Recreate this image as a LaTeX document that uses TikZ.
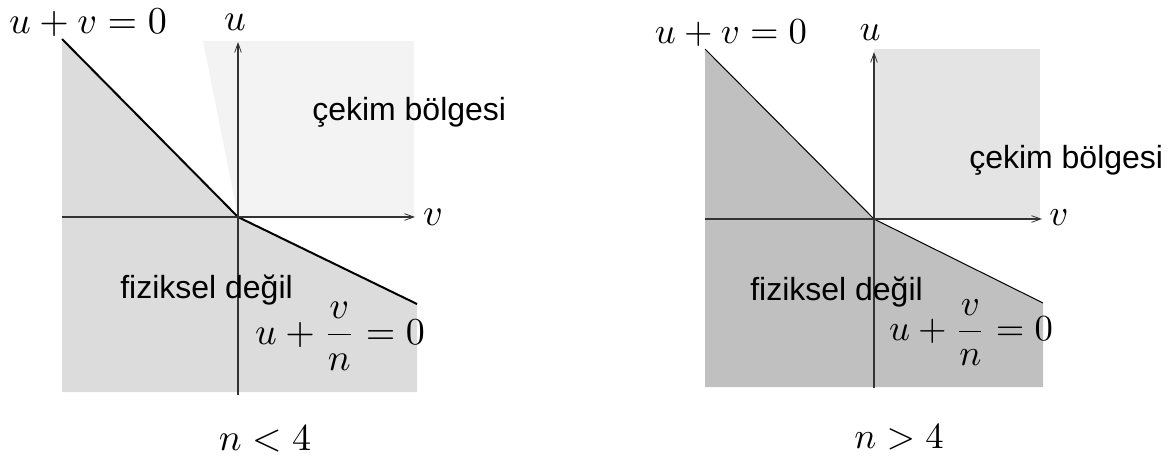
\documentclass[tikz,border=0pt]{standalone}
\usepackage{graphicx}
\usepackage{fontspec}
\newfontfamily\labelfont{Liberation Sans}
\usetikzlibrary{arrows.meta}
\definecolor{lgrayA}{HTML}{DCDCDC}
\definecolor{llightA}{HTML}{F3F3F3}
\definecolor{rgrayB}{HTML}{C0C0C0}
\definecolor{rlightB}{HTML}{E4E4E4}
\begin{document}
\begin{tikzpicture}[x=0.75pt,y=-0.75pt,
  axisline/.style={draw=black!80, line width=0.9pt, -{Straight Barb[length=7pt,width=5pt,line width=0.6pt]}},
  boundA/.style={draw=black, line width=1.5pt, line join=round},
  boundB/.style={draw=black, line width=0.75pt, line join=round},
  txt/.style={inner sep=0pt, font=\labelfont\fontsize{24}{28}\selectfont},
  mth/.style={inner sep=0pt}]
\useasboundingbox (0,0) rectangle (1169,461);
% ---------- left panel ----------
\coordinate (LO) at (238,217);
\coordinate (LTL) at (62,39);
\coordinate (LBR) at (417,304);
\fill[lgrayA] (LTL) -- (LO) -- (LBR) -- (417,392) -- (62,392) -- cycle;
\fill[llightA] (203,41) -- (414,41) -- (414,217) -- (LO) -- cycle;
\draw[boundA] (LTL) -- (LO) -- (LBR);
\coordinate (LvS) at (62,217);
\coordinate (LvE) at (415,217);
\coordinate (LuS) at (238,395);
\coordinate (LuE) at (238,42);
\draw[axisline] (LvS) -- (LvE);
\draw[axisline] (LuS) -- (LuE);
\node[mth] (Lline1) at (88,23) {\scalebox{2.85}{$u+v=0$}};
\node[mth] (Lu) at (235,22) {\scalebox{2.85}{$u$}};
\node[mth] (Lv) at (433,217) {\scalebox{2.85}{$v$}};
\node[txt, anchor=base west] (Lcekim) at (312,120) {çekim bölgesi};
\node[txt, anchor=base west] (Lfiz) at (120,298) {fiziksel değil};
\node[mth] (Lline2) at (340,336) {\scalebox{2.85}{$\displaystyle u+\frac{v}{n}=0$}};
\node[mth] (Lcap) at (265,439) {\scalebox{2.85}{$n<4$}};
% ---------- right panel ----------
\coordinate (RO) at (874,219);
\coordinate (RTL) at (705,49);
\coordinate (RBR) at (1043,303);
\fill[rgrayB] (RTL) -- (RO) -- (RBR) -- (1043,387) -- (705,387) -- cycle;
\fill[rlightB] (874,49) -- (1040,49) -- (1040,219) -- (RO) -- cycle;
\draw[boundB] (RTL) -- (RO) -- (RBR);
\coordinate (RvS) at (705,219);
\coordinate (RvE) at (1042,219);
\coordinate (RuS) at (874,388);
\coordinate (RuE) at (874,52);
\draw[axisline] (RvS) -- (RvE);
\draw[axisline] (RuS) -- (RuE);
\node[mth] (Rline1) at (731,33) {\scalebox{2.75}{$u+v=0$}};
\node[mth] (Ru) at (870,33) {\scalebox{2.75}{$u$}};
\node[mth] (Rv) at (1059,218) {\scalebox{2.75}{$v$}};
\node[txt, anchor=base west] (Rcekim) at (969,168) {çekim bölgesi};
\node[txt, anchor=base west] (Rfiz) at (750,300) {fiziksel değil};
\node[mth] (Rline2) at (971,333) {\scalebox{2.75}{$\displaystyle u+\frac{v}{n}=0$}};
\node[mth] (Rcap) at (899,437) {\scalebox{2.75}{$n>4$}};
\end{tikzpicture}
\end{document}
